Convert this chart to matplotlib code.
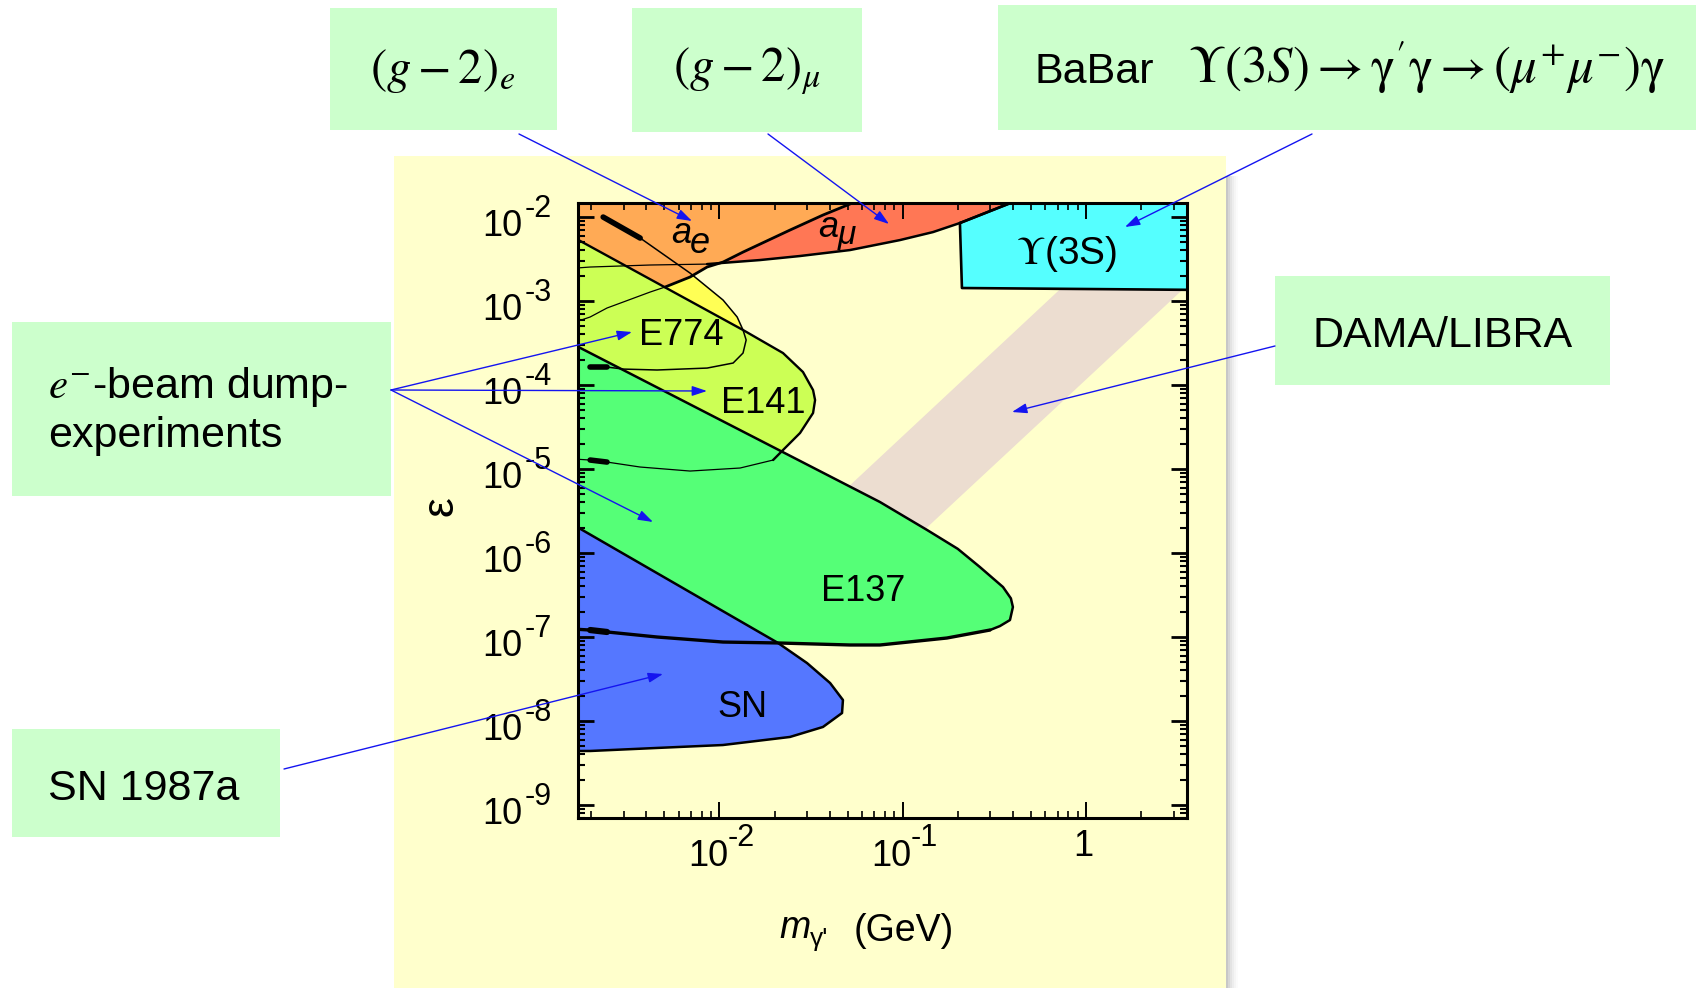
import numpy as np
import matplotlib
matplotlib.use("Agg")
import matplotlib.pyplot as plt
from matplotlib.patches import Rectangle, FancyArrowPatch
from matplotlib.ticker import LogLocator, NullFormatter

plt.rcParams['font.family'] = ['Liberation Sans', 'DejaVu Sans']
plt.rcParams['mathtext.fontset'] = 'stix'

W, H = 1696, 988
DPI = 100

# ------------------------------------------------------------------
# Data (log10 of mass in GeV and of epsilon)
# ------------------------------------------------------------------
x_limits = (1.70e-3, 3.54)
y_limits = (7.0e-10, 1.45e-2)
x_tick_values = [1e-2, 1e-1, 1.0]
x_tick_exponents = ['-2', '-1', None]
y_tick_values = [1e-2, 1e-3, 1e-4, 1e-5, 1e-6, 1e-7, 1e-8, 1e-9]
y_tick_exponents = ['-2', '-3', '-4', '-5', '-6', '-7', '-8', '-9']

# SN 1987a
sn_log_m = [-2.80, -1.680, -1.522, -1.396, -1.326, -1.331, -1.435, -1.615, -1.981, -2.341, -2.705, -2.80]
sn_log_eps = [-5.66, -7.071, -7.310, -7.548, -7.750, -7.905, -8.071, -8.190, -8.286, -8.321, -8.357, -8.357]

# E137
e137_log_m = [-2.80, -1.124, -0.867, -0.700, -0.579, -0.453, -0.410, -0.399, -0.415, -0.470, -0.524,
              -0.759, -1.124, -1.288, -1.680, -1.980, -2.340, -2.613, -2.705, -2.80]
e137_log_eps = [-3.512, -5.393, -5.726, -5.950, -6.167, -6.405, -6.540, -6.643, -6.798, -6.870, -6.917,
                -7.012, -7.095, -7.095, -7.071, -7.060, -7.000, -6.940, -6.917, -6.905]

# E141
e141_log_m = [-2.80, -1.871, -1.653, -1.544, -1.489, -1.478, -1.489, -1.560, -1.653, -1.707,
              -1.887, -2.160, -2.433, -2.613, -2.705, -2.80]
e141_log_eps = [-2.236, -3.345, -3.619, -3.845, -4.060, -4.179, -4.333, -4.571, -4.774, -4.893,
                -4.988, -5.024, -4.976, -4.917, -4.893, -4.88]

# E774
e774_log_m = [-2.634, -2.432, -2.160, -1.980, -1.903, -1.871, -1.854, -1.871, -1.925, -2.067,
              -2.340, -2.525, -2.613, -2.705]
e774_log_eps = [-2.000, -2.250, -2.667, -2.988, -3.190, -3.345, -3.464, -3.619, -3.738, -3.798,
                -3.821, -3.810, -3.786, -3.786]

# (g-2)_e
ae_log_m = [-2.80, -2.705, -2.613, -2.525, -2.378, -2.296, -2.160, -2.067, -1.980, -1.871,
            -1.615, -1.435, -1.288, -1.26, -2.80]
ae_log_eps = [-3.26, -3.190, -3.083, -3.012, -2.893, -2.833, -2.714, -2.595, -2.536, -2.417,
              -2.155, -1.976, -1.845, -1.80, -1.80]

# (g-2)_mu
amu_log_m = [-2.80, -2.705, -2.378, -2.067, -1.779, -1.561, -1.288, -1.015, -0.835, -0.688,
             -0.426, -0.40, -2.80]
amu_log_eps = [-2.61, -2.595, -2.571, -2.560, -2.512, -2.464, -2.393, -2.274, -2.179, -2.071,
               -1.845, -1.80, -1.80]

# BaBar Upsilon(3S)
ups_log_m = [-0.688, -0.426, -0.40, 0.70, 0.70, -0.677, -0.688]
ups_log_eps = [-2.071, -1.845, -1.80, -1.80, -2.869, -2.845, -2.071]

# DAMA/LIBRA band
dama_log_m = [-0.088, 0.583, -1.058, -1.724]
dama_log_eps = [-2.75, -2.75, -6.083, -6.083]

# colours
panel_color = '#FFFFCC'
box_color = '#CCFFCC'
arrow_color = '#1414F0'
c_sn = '#5577FF'
c_e137 = '#55FF77'
c_e141 = '#CCFF55'
c_e774 = '#FFFF55'
c_ae = '#FFAA55'
c_amu = '#FF7755'
c_ups = '#55FFFF'
c_dama = '#ECDDD0'


def P(lm, le):
    return 10.0 ** np.asarray(lm), 10.0 ** np.asarray(le)


def fx(px):
    return px / W


def fy(py):
    return 1.0 - py / H


fig = plt.figure(figsize=(W / DPI, H / DPI), dpi=DPI)
fig.patch.set_facecolor('white')

# yellow panel + shadow
fig.add_artist(Rectangle((fx(394), 0), fx(1226) - fx(394), fy(156), transform=fig.transFigure,
                         facecolor=panel_color, edgecolor='none', zorder=-3))
for i, g in enumerate([0.78, 0.84, 0.89, 0.93, 0.96, 0.985]):
    fig.add_artist(Rectangle((fx(1226 + 2 * i), 0), fx(2), fy(176), transform=fig.transFigure,
                             facecolor=(g, g, g), edgecolor='none', zorder=-3))

ax = fig.add_axes([fx(578.3), fy(818), fx(1186.7) - fx(578.3), fy(203.5) - fy(818)])
ax.set_facecolor('none')
ax.set_xscale('log')
ax.set_yscale('log')
ax.set_xlim(*x_limits)
ax.set_ylim(*y_limits)

# filled regions
ax.fill(*P(dama_log_m, dama_log_eps), color=c_dama, lw=0, zorder=1)
ax.fill(*P(e774_log_m, e774_log_eps), color=c_e774, lw=0, zorder=2)
ax.fill(*P(amu_log_m, amu_log_eps), color=c_amu, lw=0, zorder=3)
ax.fill(*P(ae_log_m, ae_log_eps), color=c_ae, lw=0, zorder=4)
ax.fill(*P(e141_log_m, e141_log_eps), color=c_e141, lw=0, zorder=5)
ax.fill(*P(e137_log_m, e137_log_eps), color=c_e137, lw=0, zorder=6)
ax.fill(*P(sn_log_m, sn_log_eps), color=c_sn, lw=0, zorder=7)
ax.fill(*P(ups_log_m, ups_log_eps), color=c_ups, lw=0, zorder=8)

# outlines
k = dict(color='black', zorder=10, solid_capstyle='round', solid_joinstyle='round')
ax.plot(*P(sn_log_m, sn_log_eps), lw=1.8, **k)
ax.plot(*P(e137_log_m[:11], e137_log_eps[:11]), lw=1.8, **k)
ax.plot(*P(e137_log_m[10:], e137_log_eps[10:]), lw=2.4, **k)
ax.plot(*P(e141_log_m[:10], e141_log_eps[:10]), lw=1.7, **k)
ax.plot(*P(e141_log_m[9:], e141_log_eps[9:]), lw=0.9, **k)
ax.plot(*P(e774_log_m, e774_log_eps), lw=1.1, **k)
ax.plot(*P(ae_log_m[:6], ae_log_eps[:6]), lw=0.9, **k)
ax.plot(*P(ae_log_m[5:14], ae_log_eps[5:14]), lw=2.0, **k)
ax.plot(*P(amu_log_m[:4], amu_log_eps[:4]), lw=0.9, **k)
ax.plot(*P(amu_log_m[3:12], amu_log_eps[3:12]), lw=1.8, **k)
ax.plot(*P(ups_log_m, ups_log_eps), lw=1.9, **k)
# thick starting blobs of the dump-curves
ax.plot(*P(e774_log_m[:2], e774_log_eps[:2]), lw=4.0, **k)
ax.plot(*P(e774_log_m[-2:], e774_log_eps[-2:]), lw=4.0, **k)
ax.plot(*P(e141_log_m[-3:-1], e141_log_eps[-3:-1]), lw=4.0, **k)
ax.plot(*P(e137_log_m[-3:-1], e137_log_eps[-3:-1]), lw=4.5, **k)

# ticks
ax.xaxis.set_major_locator(LogLocator(base=10, numticks=20))
ax.xaxis.set_minor_locator(LogLocator(base=10, subs=np.arange(2, 10), numticks=50))
ax.yaxis.set_major_locator(LogLocator(base=10, numticks=20))
ax.yaxis.set_minor_locator(LogLocator(base=10, subs=np.arange(2, 10), numticks=50))
for axis in (ax.xaxis, ax.yaxis):
    axis.set_major_formatter(NullFormatter())
    axis.set_minor_formatter(NullFormatter())
    axis.set_zorder(13)
ax.tick_params(which='both', direction='in', top=True, right=True)
ax.tick_params(which='major', length=11.5)
ax.tick_params(which='minor', length=5)
ax.tick_params(axis='y', which='major', width=2.0)
ax.tick_params(axis='y', which='minor', width=1.5)
ax.tick_params(axis='x', which='major', width=1.4)
ax.tick_params(axis='x', which='minor', width=1.2)
for s in ax.spines.values():
    s.set_linewidth(2.2)
    s.set_zorder(14)

# tick labels
for val, ex in zip(y_tick_values, y_tick_exponents):
    ax.annotate('10', xy=(0, val), xycoords=('axes fraction', 'data'), xytext=(-56, -19),
                textcoords='offset pixels', ha='right', va='baseline', fontsize=26,
                annotation_clip=False)
    ax.annotate(ex, xy=(0, val), xycoords=('axes fraction', 'data'), xytext=(-54, 0),
                textcoords='offset pixels', ha='left', va='baseline', fontsize=22,
                annotation_clip=False)
for val, ex in zip(x_tick_values, x_tick_exponents):
    if ex is None:
        ax.annotate('1', xy=(val, 0), xycoords=('data', 'axes fraction'), xytext=(-3, -38),
                    textcoords='offset pixels', ha='center', va='baseline', fontsize=26,
                    annotation_clip=False)
    else:
        ax.annotate('10', xy=(val, 0), xycoords=('data', 'axes fraction'), xytext=(9, -48),
                    textcoords='offset pixels', ha='right', va='baseline', fontsize=26,
                    annotation_clip=False)
        ax.annotate(ex, xy=(val, 0), xycoords=('data', 'axes fraction'), xytext=(8, -28),
                    textcoords='offset pixels', ha='left', va='baseline', fontsize=22,
                    annotation_clip=False)

# axis labels
fig.text(fx(441), fy(506), 'ε', rotation=90, ha='center', va='center', fontsize=32)
fig.text(fx(779), fy(938), 'm', style='italic', ha='left', va='baseline', fontsize=27)
fig.text(fx(810), fy(946), "γ'", ha='left', va='baseline', fontsize=19)
fig.text(fx(854), fy(941), '(GeV)', ha='left', va='baseline', fontsize=27)

# region labels
fig.text(fx(639), fy(345), 'E774', ha='left', va='baseline', fontsize=26, zorder=15)
fig.text(fx(721), fy(413), 'E141', ha='left', va='baseline', fontsize=26, zorder=15)
fig.text(fx(821), fy(601), 'E137', ha='left', va='baseline', fontsize=26, zorder=15)
fig.text(fx(717), fy(717), 'SN', ha='left', va='baseline', fontsize=26, zorder=15)
fig.text(fx(1016), fy(264), r'$\Upsilon$(3S)', ha='left', va='baseline', fontsize=28, zorder=15)
fig.text(fx(671), fy(243), 'a', style='italic', ha='left', va='baseline', fontsize=26, zorder=15)
fig.text(fx(690), fy(253), 'e', style='italic', ha='left', va='baseline', fontsize=26, zorder=15)
fig.text(fx(818), fy(237), 'a', style='italic', ha='left', va='baseline', fontsize=26, zorder=15)
fig.text(fx(838), fy(244), 'μ', style='italic', ha='left', va='baseline', fontsize=24, zorder=15)

# annotation boxes
boxes = [(330, 8, 557, 130), (632, 8, 862, 132), (998, 5, 1696, 130),
         (12, 322, 391, 496), (1275, 276, 1610, 385), (12, 729, 280, 837)]
for x0, y0, x1, y1 in boxes:
    fig.add_artist(Rectangle((fx(x0), fy(y1)), fx(x1) - fx(x0), fy(y0) - fy(y1),
                             transform=fig.transFigure, facecolor=box_color,
                             edgecolor='none', zorder=1))

fig.text(fx(443), fy(71), r'$(g-2)_e$', ha='center', va='center', fontsize=35, zorder=16)
fig.text(fx(747), fy(71), r'$(g-2)_\mu$', ha='center', va='center', fontsize=35, zorder=16)
fig.text(fx(1035), fy(83), 'BaBar', ha='left', va='baseline', fontsize=31, zorder=16)
fig.text(fx(1188), fy(83),
         r"$\Upsilon(3S)\rightarrow\mathrm{\gamma}'\mathrm{\gamma}\rightarrow(\mu^{+}\mu^{-})\mathrm{\gamma}$",
         ha='left', va='baseline', fontsize=36.5, zorder=16)
fig.text(fx(48), fy(398), r'$e^{-}$-beam dump-', ha='left', va='baseline', fontsize=31, zorder=16)
fig.text(fx(48), fy(447), 'experiments', ha='left', va='baseline', fontsize=31, zorder=16)
fig.text(fx(1443), fy(347), 'DAMA/LIBRA', ha='center', va='baseline', fontsize=31, zorder=16)
fig.text(fx(48), fy(800), 'SN 1987a', ha='left', va='baseline', fontsize=31, zorder=16)

# arrows
arrows = [((519, 134), (692, 221)), ((768, 134), (889, 224)), ((1312, 134), (1125, 227)),
          ((1275, 346), (1012, 412)), ((391, 390), (632, 332)), ((391, 390), (707, 391)),
          ((391, 390), (653, 522)), ((284, 769), (663, 674))]
for (x0, y0), (x1, y1) in arrows:
    fig.add_artist(FancyArrowPatch((fx(x0), fy(y0)), (fx(x1), fy(y1)), transform=fig.transFigure,
                                   arrowstyle='-|>,head_length=0.9,head_width=0.3',
                                   mutation_scale=10, color=arrow_color, lw=1.0,
                                   shrinkA=0, shrinkB=0, zorder=20))

fig.savefig('out.png', dpi=DPI)
